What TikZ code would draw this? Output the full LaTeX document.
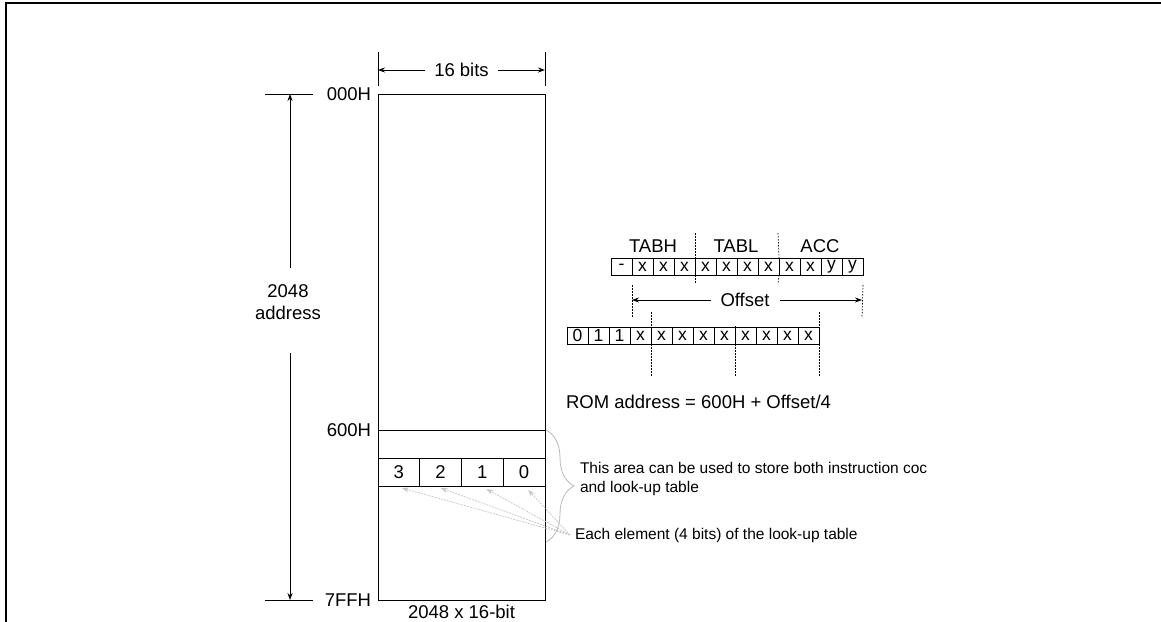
\documentclass[tikz,border=0pt]{standalone}
\usepackage{fontspec}
\setmainfont{Liberation Sans}
\usetikzlibrary{arrows.meta,decorations.pathreplacing,calc}
\begin{document}
\begin{tikzpicture}[x=1pt,y=-1pt,
  every node/.style={inner sep=0pt, outer sep=0pt},
  lbl/.style={font=\fontsize{18.5}{21}\selectfont},
  small/.style={font=\fontsize{15.5}{18.5}\selectfont},
  cell/.style={draw, line width=0.9pt, minimum width=41.75pt, minimum height=28pt, anchor=north west, font=\fontsize{18.5}{21}\selectfont},
  bitA/.style={draw, line width=0.7pt, minimum width=21pt, minimum height=17pt, anchor=north west, font=\fontsize{17.5}{20}\selectfont},
  tick/.style={line width=0.7pt},
  dtick/.style={line width=0.7pt, dash pattern=on 1.5pt off 1.5pt},
  dim/.style={line width=0.8pt, -{Stealth[length=7pt,width=5pt]}},
  greyarr/.style={gray!45, line width=0.7pt, dash pattern=on 2pt off 1pt, -{Stealth[length=7pt,width=5pt]}},
  frame/.style={line width=2.6pt}
]
\useasboundingbox (0,0) rectangle (1161,621);
% frame
\draw[frame] (6,625) -- (6,3) -- (1165,3);

% memory
\node[draw, line width=0.9pt, minimum width=167pt, minimum height=506pt, anchor=north west] (mem) at (378,94) {};
\node[cell, minimum width=167pt] (r600) at (378,430) {};
\node[cell] (c3) at (378,458) {3};
\node[cell] (c2) at (419.75,458) {2};
\node[cell] (c1) at (461.5,458) {1};
\node[cell] (c0) at (503.25,458) {0};

% 16 bits
\coordinate (tl) at (378,52);
\coordinate (tr) at (545,52);
\coordinate (tlb) at (378,86);
\coordinate (trb) at (545,86);
\draw[tick] (tl) -- (tlb);
\draw[tick] (tr) -- (trb);
\node[lbl, fill=white, inner xsep=9pt] (bits) at (461.5,70) {16 bits};
\draw[dim] (bits.west) -- (378,70);
\draw[dim] (bits.east) -- (545,70);

% address labels
\node[lbl, anchor=east] (a000) at (371,94) {000H};
\node[lbl, anchor=east] (a600) at (371,430) {600H};
\node[lbl, anchor=east] (a7ff) at (371,600) {7FFH};
\coordinate (t0a) at (265,94); \coordinate (t0b) at (313,94);
\coordinate (t7a) at (265,600); \coordinate (t7b) at (313,600);
\draw[tick] (t0a) -- (t0b);
\draw[tick] (t7a) -- (t7b);
\node[lbl, align=center, font=\fontsize{18.5}{22}\selectfont] (addr) at (288,302) {2048\\address};
\coordinate (vtop) at (290,94);
\coordinate (vbot) at (290,600);
\draw[dim] (290,268) -- (vtop);
\draw[dim] (290,353) -- (vbot);

\node[lbl, anchor=base] (size) at (461.5,618) {2048 x 16-bit};

% brace and notes
\draw[gray!55, line width=0.8pt, decorate, decoration={brace, amplitude=28pt, aspect=0.5}] (546,430) -- (546,542);
\node[small, anchor=west, align=left] (note1) at (580,479) {This area can be used to store both instruction coc\\and look-up table};
\node[small, anchor=west] (note2) at (575,535) {Each element (4 bits) of the look-up table};
\coordinate (src) at (570,535);
\draw[greyarr] (src) -- ($(c3.south)+(3,2)$);
\draw[greyarr] (src) -- ($(c2.south)+(0,2)$);
\draw[greyarr] (src) -- ($(c1.south)+(4,3)$);
\draw[greyarr] (src) -- ($(c0.south)+(4,4)$);

% top register row
\foreach \i/\t in {0/-,1/x,2/x,3/x,4/x,5/x,6/x,7/x,8/x,9/x,10/y,11/y}{
  \node[bitA] (u\i) at ({611+21*\i},258) {\t};
}
\node[lbl] (tabh) at (653,246) {TABH};
\node[lbl] (tabl) at (736,246) {TABL};
\node[lbl] (acc) at (820,246) {ACC};
\draw[dtick] (695,233) -- (u4.north west);
\draw[dtick] (u4.south west) -- (695,284);
\draw[dtick] (778,233) -- (u8.north west);
\draw[dtick] (u8.south west) -- (778,284);
% offset
\coordinate (ol) at (632,318);
\coordinate (or) at (862,318);
\draw[dtick] (u1.south west) ++(0,10) -- (ol);
\draw[dtick] (u11.south east) ++(0,10) -- (or);
\node[lbl, fill=white, inner xsep=10pt] (off) at (745,300) {Offset};
\draw[dim] (off.west) -- (632,300);
\draw[dim] (off.east) -- (862,300);

% bottom row
\foreach \i/\t in {0/0,1/1,2/1,3/x,4/x,5/x,6/x,7/x,8/x,9/x,10/x,11/x}{
  \node[bitA] (b\i) at ({567+21*\i},327) {\t};
}
\draw[dtick] (651,312) -- (b4.north west);
\draw[dtick] (b4.south west) -- (651,376);
\draw[dtick] (735,326) -- (b8.north west);
\draw[dtick] (b8.south west) -- (735,376);
\draw[dtick] (819,312) -- (b11.north east);
\draw[dtick] (b11.south east) -- (819,376);

\node[lbl, anchor=west] (rom) at (566,402) {ROM address = 600H + Offset/4};
\end{tikzpicture}
\end{document}
